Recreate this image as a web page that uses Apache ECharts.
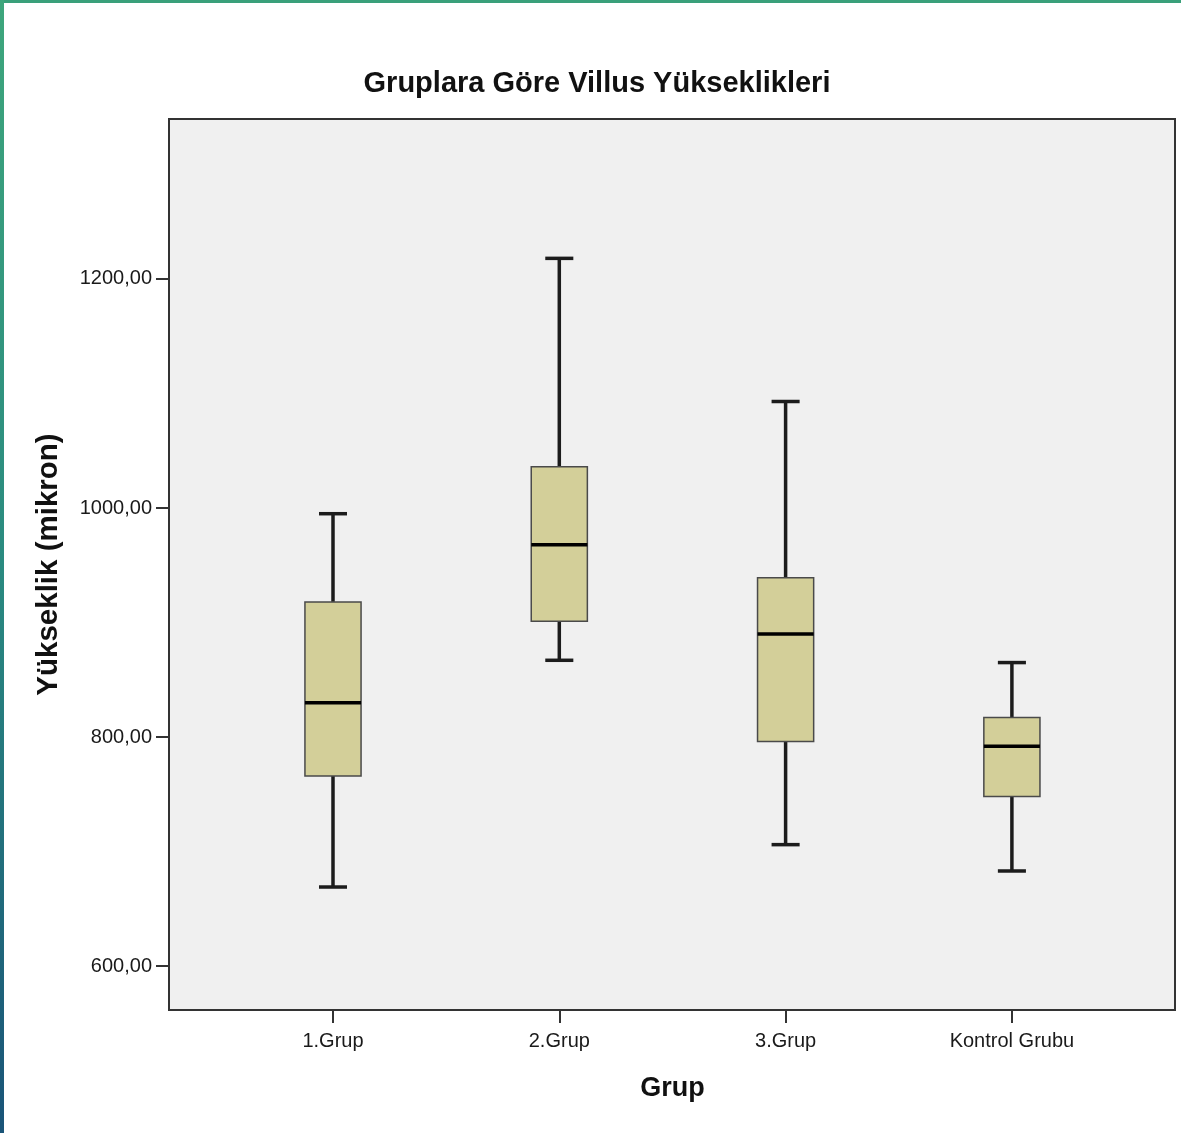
<!DOCTYPE html>
<html><head><meta charset="utf-8">
<script src="https://cdn.jsdelivr.net/npm/echarts@6/dist/echarts.min.js"></script>
<style>html,body{margin:0;padding:0;background:#fff}#c{width:1181px;height:1133px}</style>
</head><body><div id="c"></div>
<script>
var categories = ['1.Grup', '2.Grup', '3.Grup', 'Kontrol Grubu'];
var whiskerLow  = [669, 867, 706, 683];
var q1Values    = [766, 901, 796, 748];
var medians     = [830, 968, 890, 792];
var q3Values    = [918, 1036, 939, 817];
var whiskerHigh = [995, 1218, 1093, 865];
var yTicks = [600, 800, 1000, 1200];

var data = categories.map(function (c, i) {
  return [i, whiskerLow[i], q1Values[i], medians[i], q3Values[i], whiskerHigh[i]];
});

var chart = echarts.init(document.getElementById('c'), null, {renderer: 'canvas'});
var FONT = 'Liberation Sans, Arial, sans-serif';
chart.setOption({
  animation: false,
  backgroundColor: '#ffffff',
  title: {
    text: 'Gruplara Göre Villus Yükseklikleri',
    left: 597, top: 69, textAlign: 'center', padding: 0,
    textStyle: {fontFamily: FONT, fontSize: 29, fontWeight: 'bold', color: '#111'}
  },
  graphic: [
    {type: 'rect', left: 0, top: 0, shape: {width: 1181, height: 3}, style: {fill: '#3aa07a'}, z: 100},
    {type: 'rect', left: 0, top: 0, shape: {width: 4, height: 1133},
      style: {fill: new echarts.graphic.LinearGradient(0, 0, 0, 1, [
        {offset: 0, color: '#3ea67c'}, {offset: 0.5, color: '#2a8a80'}, {offset: 1, color: '#1a5478'}])}, z: 100}
  ],
  grid: [
    {left: 169, top: 119, width: 1006, height: 891, show: true, backgroundColor: '#f0f0f0',
      borderColor: '#333', borderWidth: 2, containLabel: false},
    {left: 219.85, top: 119, width: 905.2, height: 891, containLabel: false}
  ],
  xAxis: [
    {gridIndex: 0, type: 'value', min: 0, max: 1, show: false},
    {gridIndex: 1, type: 'category', data: categories, boundaryGap: true,
      name: 'Grup', nameLocation: 'middle', nameGap: 65,
      nameTextStyle: {fontFamily: FONT, fontSize: 27, fontWeight: 'bold', color: '#111'},
      axisLine: {show: false},
      axisTick: {show: true, alignWithLabel: true, length: 13, lineStyle: {color: '#333', width: 2}},
      axisLabel: {fontFamily: FONT, fontSize: 20, color: '#1a1a1a', margin: 21},
      splitLine: {show: false}}
  ],
  yAxis: [
    {gridIndex: 0, type: 'value', min: 0, max: 1, show: false},
    {gridIndex: 1, type: 'value', min: 561.6, max: 1339.7, offset: 50.85,
      name: 'Yükseklik (mikron)', nameLocation: 'middle', nameGap: 105, nameRotate: 90,
      nameTextStyle: {fontFamily: FONT, fontSize: 29.5, fontWeight: 'bold', color: '#111'},
      axisLine: {show: true, lineStyle: {color: '#333', width: 2}},
      axisTick: {show: true, length: 13, customValues: yTicks, lineStyle: {color: '#333', width: 2}},
      axisLabel: {fontFamily: FONT, fontSize: 20, color: '#1a1a1a', margin: 17, customValues: yTicks,
        formatter: function (v) { return v.toFixed(2).replace('.', ','); }},
      splitLine: {show: false}}
  ],
  series: [{
    type: 'custom',
    xAxisIndex: 1, yAxisIndex: 1,
    data: data,
    encode: {x: 0, y: [1, 2, 3, 4, 5]},
    renderItem: function (params, api) {
      var x = api.value(0);
      var pMin = api.coord([x, api.value(1)]);
      var pQ1 = api.coord([x, api.value(2)]);
      var pMed = api.coord([x, api.value(3)]);
      var pQ3 = api.coord([x, api.value(4)]);
      var pMax = api.coord([x, api.value(5)]);
      var band = api.size([1, 0])[0];
      var bw = band * 0.248;
      var cw = bw / 2;
      var cx = pMed[0];
      var lineStyle = {stroke: '#1c1c1c', lineWidth: 3.5};
      return {
        type: 'group',
        children: [
          {type: 'line', shape: {x1: cx, y1: pMax[1], x2: cx, y2: pQ3[1]}, style: lineStyle},
          {type: 'line', shape: {x1: cx, y1: pQ1[1], x2: cx, y2: pMin[1]}, style: lineStyle},
          {type: 'line', shape: {x1: cx - cw / 2, y1: pMax[1], x2: cx + cw / 2, y2: pMax[1]}, style: lineStyle},
          {type: 'line', shape: {x1: cx - cw / 2, y1: pMin[1], x2: cx + cw / 2, y2: pMin[1]}, style: lineStyle},
          {type: 'rect', shape: {x: cx - bw / 2, y: pQ3[1], width: bw, height: pQ1[1] - pQ3[1]},
            style: {fill: '#d3cf99', stroke: '#4a4a4a', lineWidth: 1.5}},
          {type: 'line', shape: {x1: cx - bw / 2, y1: pMed[1], x2: cx + bw / 2, y2: pMed[1]},
            style: {stroke: '#000', lineWidth: 3.5}}
        ]
      };
    }
  }]
});
</script></body></html>
